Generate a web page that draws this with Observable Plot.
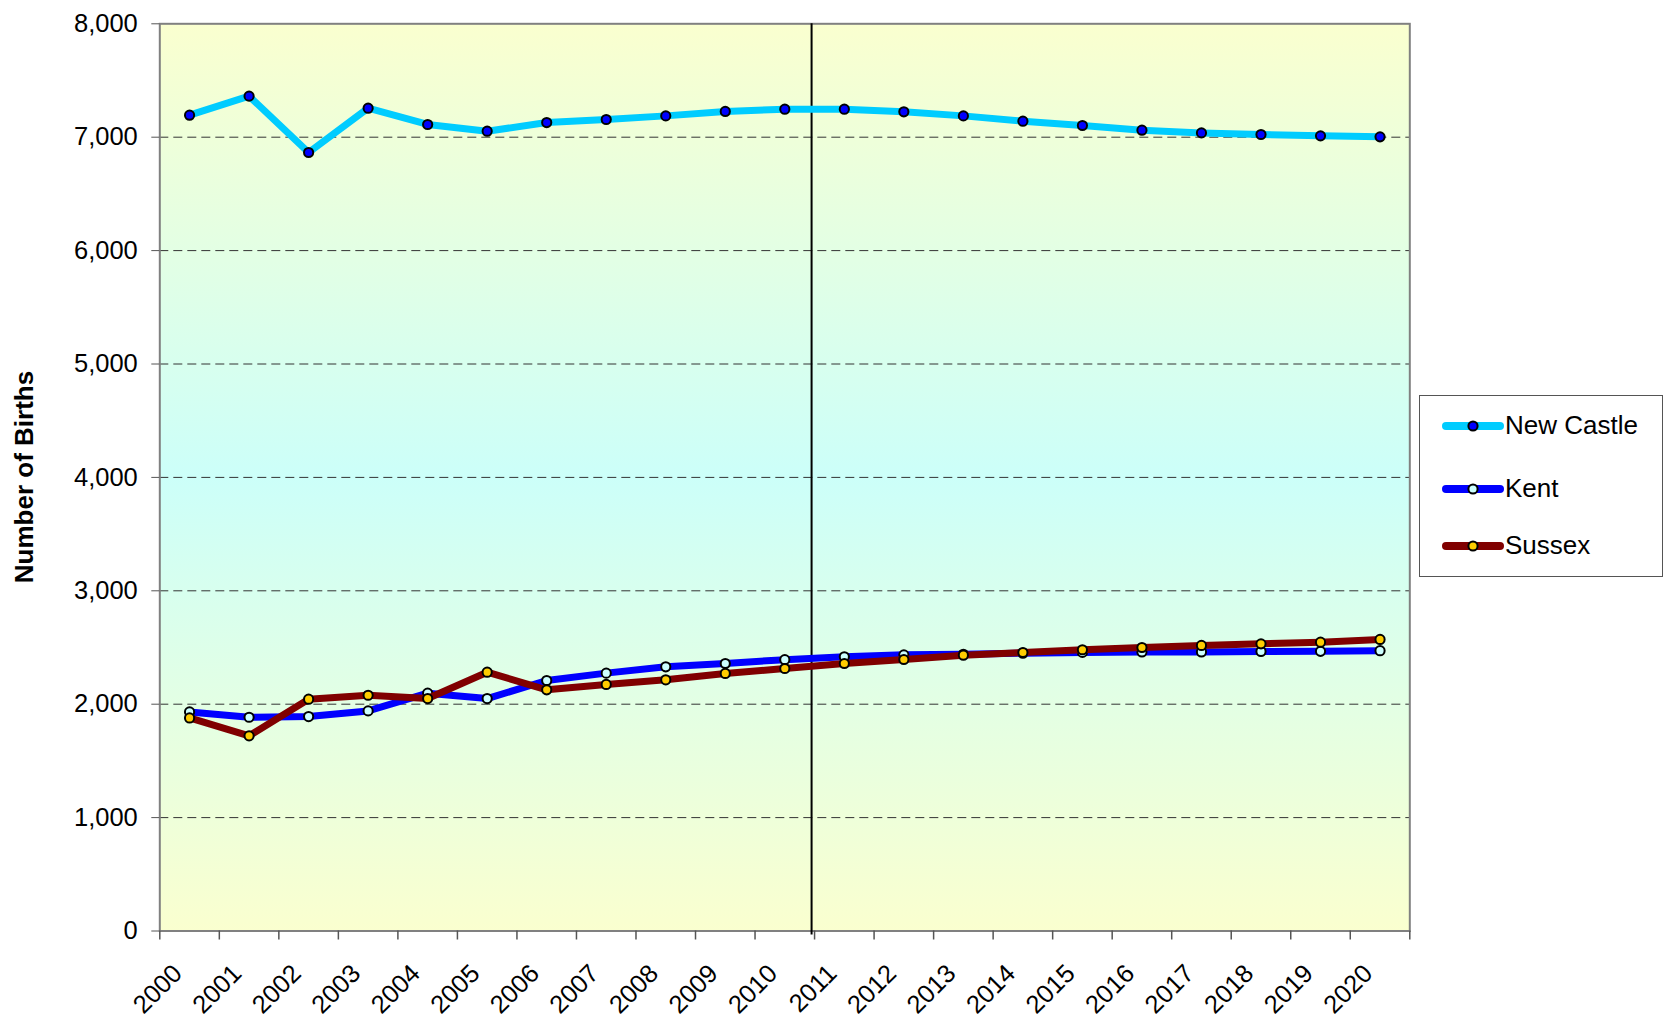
<!DOCTYPE html>
<html><head><meta charset="utf-8">
<script src="https://cdn.jsdelivr.net/npm/d3@7"></script>
<script src="https://cdn.jsdelivr.net/npm/@observablehq/plot@0.6"></script>
<style>
body{margin:0;background:#fff;font-family:"Liberation Sans",Arial,sans-serif;}
#wrap{position:relative;width:1665px;height:1018px;}
#legend{position:absolute;left:1419px;top:395px;width:244px;height:182px;border:1.5px solid #555;background:#fff;box-sizing:border-box;}
.item{position:absolute;left:22px;height:30px;display:flex;align-items:center;font-size:26px;color:#000;white-space:nowrap;}
.item svg{display:block;margin-right:1px;}
</style></head>
<body><div id="wrap"></div>
<script>
const years = [2000,2001,2002,2003,2004,2005,2006,2007,2008,2009,2010,2011,2012,2013,2014,2015,2016,2017,2018,2019,2020];
const newCastle = [7194,7362,6865,7256,7112,7053,7129,7156,7188,7227,7247,7247,7224,7188,7141,7103,7062,7038,7024,7012,7003];
const kent      = [1932,1885,1891,1941,2097,2050,2209,2274,2330,2359,2393,2418,2435,2440,2450,2457,2461,2461,2465,2466,2472];
const sussex    = [1879,1721,2044,2079,2050,2282,2127,2174,2215,2271,2315,2359,2394,2432,2456,2480,2500,2518,2532,2547,2571];
const yTicks = [0,1000,2000,3000,4000,5000,6000,7000,8000];
const gridValues = [1000,2000,3000,4000,5000,6000,7000];
const divider = [2010.45];
const seriesNames = ["New Castle","Kent","Sussex"];
const lineColors = ["#00CCFF","#0000FF","#800000"];
const markerColors = ["#0000FF","#CCFFFF","#FFCC00"];
const seriesValues = [newCastle, kent, sussex];

const xBounds = years.map(y => y - 0.5).concat([years[years.length-1] + 0.5]);

const marks = [
  Plot.frame({fill: "url(#bgGrad)"}),
  Plot.gridY(gridValues, {stroke: "#333", strokeOpacity: 1, strokeWidth: 1, strokeDasharray: "9,5"}),
  Plot.frame({stroke: "#808080", strokeWidth: 2}),
  Plot.axisY({ticks: yTicks, tickSize: 8, tickPadding: 14, tickFormat: d3.format(","), stroke: "#555", label: null}),
  Plot.ruleX(xBounds, {x: d => d, y1: 0, y2: 0, insetBottom: -9, stroke: "#555", strokeWidth: 1.5}),
  Plot.text(years, {x: d => d, frameAnchor: "bottom", text: d => String(d), rotate: -45, textAnchor: "end", lineAnchor: "bottom", dx: -6, dy: 44, fill: "#000", fontSize: 25.5}),
  Plot.ruleX(divider, {stroke: "#000", strokeWidth: 2, insetBottom: -4})
];
seriesValues.forEach((vals, i) => {
  const data = years.map((y, j) => ({year: y, value: vals[j]}));
  marks.push(Plot.line(data, {x: "year", y: "value", stroke: lineColors[i], strokeWidth: 7, strokeLinejoin: "round"}));
  marks.push(Plot.dot(data, {x: "year", y: "value", r: 4.6, fill: markerColors[i], stroke: "#000", strokeWidth: 2}));
});

const chart = Plot.plot({
  width: 1665,
  height: 1018,
  marginLeft: 159.3,
  marginRight: 255.7,
  marginTop: 23.3,
  marginBottom: 87.5,
  style: {fontFamily: "'Liberation Sans', Arial, sans-serif", fontSize: "25.5px", color: "#000", background: "transparent"},
  x: {type: "linear", domain: [1999.5, 2020.5], axis: null},
  y: {domain: [0, 8000]},
  marks
});

const svg = d3.select(chart);
const grad = svg.insert("defs", ":first-child").append("linearGradient")
  .attr("id", "bgGrad").attr("x1", 0).attr("y1", 0).attr("x2", 0).attr("y2", 1);
grad.append("stop").attr("offset", "0%").attr("stop-color", "#FAFFCF");
grad.append("stop").attr("offset", "50%").attr("stop-color", "#CCFFF9");
grad.append("stop").attr("offset", "100%").attr("stop-color", "#FAFFCF");

svg.append("text")
  .attr("transform", "translate(24,477) rotate(-90)")
  .attr("text-anchor", "middle")
  .attr("dy", "0.35em")
  .attr("font-weight", "bold")
  .attr("font-size", "26px")
  .attr("fill", "#000")
  .text("Number of Births");

const wrap = document.getElementById("wrap");
wrap.appendChild(chart);

const legend = document.createElement("div");
legend.id = "legend";
const itemCenters = [31, 94, 151];
seriesNames.forEach((name, i) => {
  const item = document.createElement("div");
  item.className = "item";
  item.style.top = (itemCenters[i] - 16.5) + "px";
  item.innerHTML = `<svg width="62" height="16"><line x1="4" y1="8" x2="58" y2="8" stroke="${lineColors[i]}" stroke-width="8" stroke-linecap="round"/><circle cx="31" cy="8" r="4.6" fill="${markerColors[i]}" stroke="#000" stroke-width="2"/></svg><span>${name}</span>`;
  legend.appendChild(item);
});
wrap.appendChild(legend);
</script>
</body></html>
